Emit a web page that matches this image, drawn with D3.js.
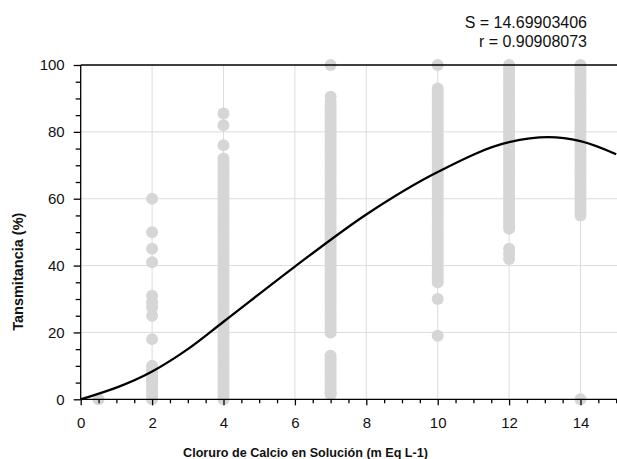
<!DOCTYPE html>
<html><head><meta charset="utf-8">
<script src="https://cdn.jsdelivr.net/npm/d3@7"></script>
<style>html,body{margin:0;padding:0;background:#fff;}svg{display:block;}</style>
</head><body>
<svg id="c" width="617" height="459"></svg>
<script>
// ---- data ----
const xTicks = [0, 2, 4, 6, 8, 10, 12, 14];
const yTicks = [0, 20, 40, 60, 80, 100];
const col05 = [0];
const col2 = [60, 50, 45, 41, 31, 29, 27.5, 25, 18, 10, 9, 8, 7, 6, 5, 4, 3, 2, 1, 0];
const col4 = [85.5, 82, 76, 72, 71, 70, 69, 68, 67, 66, 65, 64, 63, 62, 61, 60, 59, 58, 57, 56, 55, 54, 53, 52, 51, 50, 49, 48, 47, 46, 45, 44, 43, 42, 41, 40, 39, 38, 37, 36, 35, 34, 33, 32, 31, 30, 29, 28, 27, 26, 25, 24, 23, 22, 21, 20, 19, 18, 17, 16, 15, 14, 13, 12, 11, 10, 9, 8, 7, 6, 5, 4, 3, 2, 1, 0];
const col7 = [100, 90.5, 89, 88, 87, 86, 85, 84, 83, 82, 81, 80, 79, 78, 77, 76, 75, 74, 73, 72, 71, 70, 69, 68, 67, 66, 65, 64, 63, 62, 61, 60, 59, 58, 57, 56, 55, 54, 53, 52, 51, 50, 49, 48, 47, 46, 45, 44, 43, 42, 41, 40, 39, 38, 37, 36, 35, 34, 33, 32, 31, 30, 29, 28, 27, 26, 25, 24, 23, 22, 21, 20, 13, 12, 11, 10, 9, 8, 7, 6, 5, 4, 3, 2, 1.5];
const col10 = [100, 93, 92, 91, 90, 89, 88, 87, 86, 85, 84, 83, 82, 81, 80, 79, 78, 77, 76, 75, 74, 73, 72, 71, 70, 69, 68, 67, 66, 65, 64, 63, 62, 61, 60, 59, 58, 57, 56, 55, 54, 53, 52, 51, 50, 49, 48, 47, 46, 45, 44, 43, 42, 41, 40, 39, 38, 37, 36, 35, 30, 19];
const col12 = [100, 99, 98, 97, 96, 95, 94, 93, 92, 91, 90, 89, 88, 87, 86, 85, 84, 83, 82, 81, 80, 79, 78, 77, 76, 75, 74, 73, 72, 71, 70, 69, 68, 67, 66, 65, 64, 63, 62, 61, 60, 59, 58, 57, 56, 55, 54, 53, 52, 51, 45, 43.5, 42];
const col14 = [100, 99, 98, 97, 96, 95, 94, 93, 92, 91, 90, 89, 88, 87, 86, 85, 84, 83, 82, 81, 80, 79, 78, 77, 76, 75, 74, 73, 72, 71, 70, 69, 68, 67, 66, 65, 64, 63, 62, 61, 60, 59, 58, 57, 56, 55, 0];
const columns = [[0.5, col05], [2, col2], [4, col4], [7, col7], [10, col10], [12, col12], [14, col14]];
const fitX = [0, 2, 3, 4, 6, 8, 10, 12, 13.1, 14, 15];
const fitY = [0, 8.3, 15, 23.2, 39.7, 55.3, 68, 76.9, 78.4, 77.2, 73.3];
const statS = "S = 14.69903406";
const statR = "r = 0.90908073";
const xTitle = "Cloruro de Calcio en Solución (m Eq L-1)";
const yTitle = "Tansmitancia (%)";

// ---- drawing ----
const svg = d3.select("#c");
const L = 80.7, R = 616.2, T = 65, B = 399.3;
const x = d3.scaleLinear().domain([0, 15]).range([L, R]);
const y = d3.scaleLinear().domain([0, 100]).range([B, T]);
const font = "'Liberation Sans', Arial, sans-serif";

// grid
const g = svg.append("g");
g.selectAll("line.vx").data(xTicks.filter(d => d > 0)).join("line")
  .attr("x1", d => x(d)).attr("x2", d => x(d)).attr("y1", T).attr("y2", B)
  .attr("stroke", "#dcdcdc").attr("stroke-width", 1);
g.selectAll("line.hy").data(yTicks.filter(d => d > 0 && d < 100)).join("line")
  .attr("x1", L).attr("x2", R + 1).attr("y1", d => y(d)).attr("y2", d => y(d))
  .attr("stroke", "#dcdcdc").attr("stroke-width", 1);

// points
const pts = [];
columns.forEach(([cx, vals]) => vals.forEach(v => pts.push([cx, v])));
svg.append("g").selectAll("circle").data(pts).join("circle")
  .attr("cx", d => x(d[0])).attr("cy", d => y(d[1])).attr("r", 6)
  .attr("fill", "#d6d6d6");

// axes
const xAxis = d3.axisBottom(x).tickValues(xTicks).tickSize(6).tickPadding(12).tickFormat(d3.format("d"));
const xMinor = d3.axisBottom(x).tickValues(d3.range(0.5, 15.01, 1).concat(d3.range(1, 15.01, 2))).tickSize(4).tickFormat("");
const yAxis = d3.axisLeft(y).tickValues(yTicks).tickSize(7).tickPadding(9).tickFormat(d3.format("d"));
const yMinor = d3.axisLeft(y).tickValues([5,10,15,25,30,35,45,50,55,65,70,75,85,90,95]).tickSize(5).tickFormat("");

function style(sel) {
  sel.select(".domain").remove();
  sel.selectAll("line").attr("stroke", "#000").attr("stroke-width", 1.3);
  sel.selectAll("text").attr("font-family", font).attr("font-size", 15).attr("fill", "#111");
}
svg.append("g").attr("transform", `translate(0,${B})`).call(xMinor).call(style);
svg.append("g").attr("transform", `translate(0,${B})`).call(xAxis).call(style);
svg.append("g").attr("transform", `translate(${L},0)`).call(yMinor).call(style);
svg.append("g").attr("transform", `translate(${L},0)`).call(yAxis).call(style);

// frame lines
svg.append("line").attr("x1", L).attr("x2", 617).attr("y1", B).attr("y2", B).attr("stroke", "#000").attr("stroke-width", 1.3);
svg.append("line").attr("x1", L).attr("x2", 617).attr("y1", T).attr("y2", T).attr("stroke", "#000").attr("stroke-width", 1.3);
svg.append("line").attr("x1", L).attr("x2", L).attr("y1", T).attr("y2", B).attr("stroke", "#000").attr("stroke-width", 1.3);

// fitted curve
const line = d3.line().x((d, i) => x(fitX[i])).y(d => y(d)).curve(d3.curveMonotoneX);
svg.append("path").attr("d", line(fitY)).attr("fill", "none")
  .attr("stroke", "#000").attr("stroke-width", 2.3);

// stats text
svg.append("text").attr("x", 587).attr("y", 27.5).attr("text-anchor", "end")
  .attr("font-family", font).attr("font-size", 16).attr("fill", "#111").text(statS);
svg.append("text").attr("x", 587).attr("y", 46.5).attr("text-anchor", "end")
  .attr("font-family", font).attr("font-size", 16).attr("fill", "#111").text(statR);

// titles
svg.append("text").attr("x", 305.5).attr("y", 456.5).attr("text-anchor", "middle")
  .attr("font-family", font).attr("font-size", 12.6).attr("font-weight", "bold").attr("fill", "#111").text(xTitle);
svg.append("text").attr("transform", "translate(23,271.7) rotate(-90)").attr("text-anchor", "middle")
  .attr("font-family", font).attr("font-size", 14.5).attr("font-weight", "bold").attr("fill", "#111").text(yTitle);
</script>
</body></html>
